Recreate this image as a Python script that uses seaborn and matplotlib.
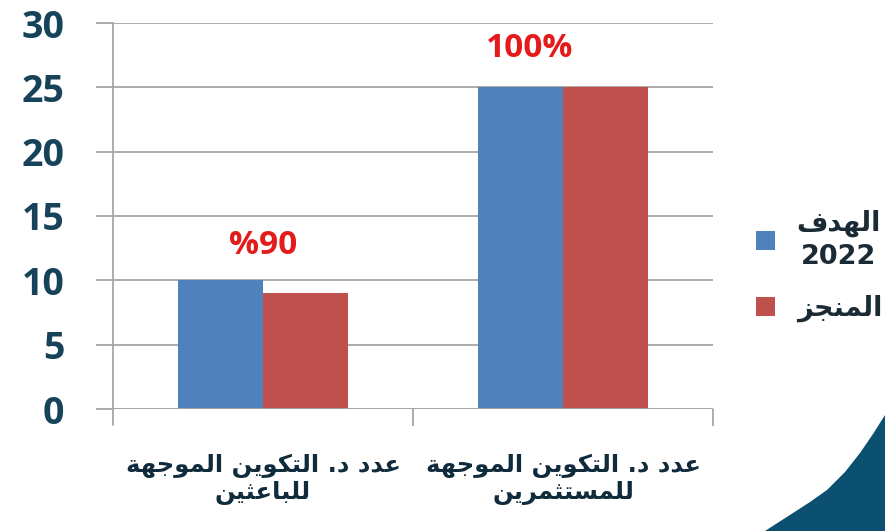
import matplotlib
matplotlib.use("Agg")
import matplotlib.pyplot as plt
import seaborn as sns
import pandas as pd
from matplotlib.patches import Polygon

# ---------------- data ----------------
categories = ["عدد د. التكوين الموجهة\nللباعثين", "عدد د. التكوين الموجهة\nللمستثمرين"]
series_names = ["الهدف\n2022", "المنجز"]
target_values = [10, 25]
achieved_values = [9, 25]
rate_labels = ["%90", "100%"]
yticks = [0, 5, 10, 15, 20, 25, 30]

# ---------------- minimal Arabic shaping ----------------
FORMS = {
    "\u0627": (0xFE8D, 0xFE8E, None, None),
    "\u0628": (0xFE8F, 0xFE90, 0xFE91, 0xFE92),
    "\u0629": (0xFE93, 0xFE94, None, None),
    "\u062A": (0xFE95, 0xFE96, 0xFE97, 0xFE98),
    "\u062B": (0xFE99, 0xFE9A, 0xFE9B, 0xFE9C),
    "\u062C": (0xFE9D, 0xFE9E, 0xFE9F, 0xFEA0),
    "\u062F": (0xFEA9, 0xFEAA, None, None),
    "\u0631": (0xFEAD, 0xFEAE, None, None),
    "\u0632": (0xFEAF, 0xFEB0, None, None),
    "\u0633": (0xFEB1, 0xFEB2, 0xFEB3, 0xFEB4),
    "\u0639": (0xFEC9, 0xFECA, 0xFECB, 0xFECC),
    "\u0641": (0xFED1, 0xFED2, 0xFED3, 0xFED4),
    "\u0643": (0xFED9, 0xFEDA, 0xFEDB, 0xFEDC),
    "\u0644": (0xFEDD, 0xFEDE, 0xFEDF, 0xFEE0),
    "\u0645": (0xFEE1, 0xFEE2, 0xFEE3, 0xFEE4),
    "\u0646": (0xFEE5, 0xFEE6, 0xFEE7, 0xFEE8),
    "\u0647": (0xFEE9, 0xFEEA, 0xFEEB, 0xFEEC),
    "\u0648": (0xFEED, 0xFEEE, None, None),
    "\u064A": (0xFEF1, 0xFEF2, 0xFEF3, 0xFEF4),
}


def shape_line(s):
    if not any(c in FORMS for c in s):
        return s
    out = []
    n = len(s)
    for i, c in enumerate(s):
        if c not in FORMS:
            out.append(c)
            continue
        f = FORMS[c]
        prev = s[i - 1] if i > 0 else None
        nxt = s[i + 1] if i < n - 1 else None
        pj = prev in FORMS and FORMS[prev][2] is not None
        nj = nxt in FORMS and f[2] is not None
        if pj and nj:
            code = f[3]
        elif pj:
            code = f[1]
        elif nj:
            code = f[2]
        else:
            code = f[0]
        out.append(chr(code))
    return "".join(out)[::-1]


def shape(s):
    return "\n".join(shape_line(l) for l in s.split("\n"))


# ---------------- table ----------------
cat_disp = [shape(c) for c in categories]
ser_disp = [shape(s) for s in series_names]
df = pd.DataFrame({
    "category": cat_disp * 2,
    "series": [ser_disp[0]] * 2 + [ser_disp[1]] * 2,
    "value": target_values + achieved_values,
})

sns.set_theme(style="white")
plt.rcParams["font.family"] = ["DejaVu Sans"]

fig = plt.figure(figsize=(8.85, 5.31), dpi=100)
ax = fig.add_axes([113 / 885, 1 - 409 / 531, 600 / 885, 386 / 531])

sns.barplot(data=df, x="category", y="value", hue="series", order=cat_disp,
            hue_order=ser_disp, palette=["#4F81BD", "#C0504D"],
            width=0.567, gap=0, saturation=1, ax=ax, legend=True, linewidth=0)

ax.set_xlim(-0.5, 1.5)
ax.set_ylim(0, 30)
ax.set_yticks(yticks)
ax.set_xlabel("")
ax.set_ylabel("")

grid_c = "#A6A6A6"
ax.yaxis.grid(True, color=grid_c, linewidth=1.3)
ax.set_axisbelow(True)
for side in ["top", "right", "bottom"]:
    ax.spines[side].set_visible(False)
ax.spines["left"].set_color(grid_c)
ax.spines["left"].set_linewidth(1.3)

ax.tick_params(axis="y", which="major", length=12, width=1.3, color=grid_c,
               direction="out", pad=23, labelsize=27, labelcolor="#17435A", left=True)
for lbl in ax.get_yticklabels():
    lbl.set_fontfamily(["Open Sans", "DejaVu Sans"])
    lbl.set_fontweight("bold")

ax.set_xticks([0, 1])
ax.set_xticks([0.5, 1.5], minor=True)
ax.tick_params(axis="x", which="major", length=0, pad=32, labelsize=17.5,
               labelcolor="#102B3C")
ax.tick_params(axis="x", which="minor", length=12, width=1.3, color=grid_c,
               direction="out", bottom=True)
for lbl in ax.get_xticklabels():
    lbl.set_fontweight("bold")
    lbl.set_linespacing(1.1)

# left spine extended below the axis
ax.plot([-0.5, -0.5], [0, -1.25], color=grid_c, lw=1.3, clip_on=False)
ax.axhline(0, color=grid_c, lw=1.3)

# percentage annotations
ann_pos = [(0, 12.7), (0.89, 28.0)]
for (x, y), t in zip(ann_pos, rate_labels):
    ax.text(x, y, t, color="#E31B1B", fontsize=24, fontweight="bold",
            ha="center", va="center", family=["Open Sans", "DejaVu Sans"])

# legend
ax.legend_.remove()
handles, labels = ax.get_legend_handles_labels()
leg = fig.legend(handles, labels, loc="center left",
                 bbox_to_anchor=(756 / 885, 1 - 266 / 531), frameon=False,
                 handlelength=0.7, handleheight=0.7, handletextpad=0.8,
                 labelspacing=0.9, borderaxespad=0, borderpad=0,
                 prop={"size": 19.5, "weight": "bold", "family": "DejaVu Sans"})
for t in leg.get_texts():
    t.set_color("#1B2B36")
    t.set_multialignment("center")
    t.set_linespacing(1.35)

# decorative corner shape
pts = [(765, 531), (779, 522), (793, 513), (810, 502), (827, 490), (845, 472),
       (860, 453), (873, 434), (885, 415), (885, 531)]
poly = Polygon([(x / 885, 1 - y / 531) for x, y in pts], closed=True,
               transform=fig.transFigure, facecolor="#0B5070", edgecolor="none")
fig.add_artist(poly)

fig.savefig("out.png", dpi=100)
